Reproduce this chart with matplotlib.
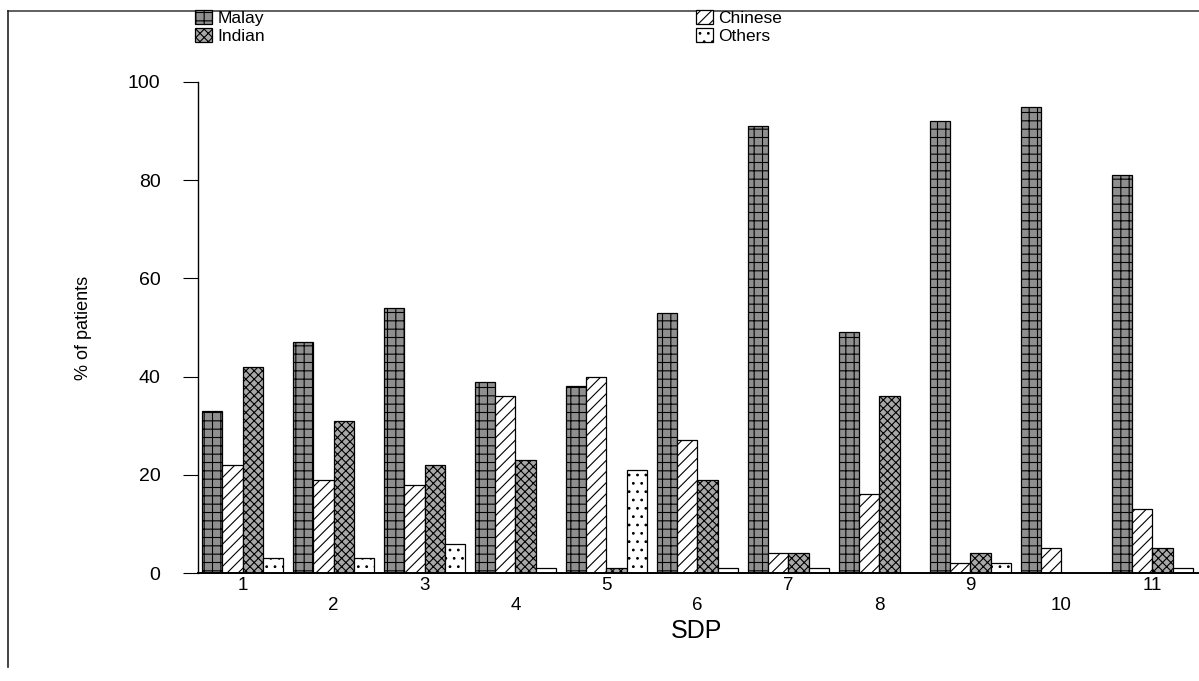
import matplotlib as mpl
mpl.use('Agg')
import matplotlib.pyplot as plt
from matplotlib.lines import Line2D
import numpy as np

plt.rcParams['font.family'] = ['Liberation Sans', 'DejaVu Sans']
plt.rcParams['hatch.linewidth'] = 0.8

sdp = ['1', '2', '3', '4', '5', '6', '7', '8', '9', '10', '11']
malay = [33, 47, 54, 39, 38, 53, 91, 49, 92, 95, 81]
chinese = [22, 19, 18, 36, 40, 27, 4, 16, 2, 5, 13]
indian = [42, 31, 22, 23, 1, 19, 4, 36, 4, 0, 5]
others = [3, 3, 6, 1, 21, 1, 1, 0, 2, 0, 1]

series = [('Malay', malay, '#8f8f8f', '++'),
          ('Chinese', chinese, 'white', '///'),
          ('Indian', indian, '#a8a8a8', 'xxxx'),
          ('Others', others, 'white', '..')]

fig = plt.figure(figsize=(11.99, 6.81), dpi=100)
ax = fig.add_axes([198/1199, 1-573/681, (1195-198)/1199, (573-82)/681])

x = np.arange(len(sdp))
w = 0.223
bars = {}
for k, (name, vals, fc, h) in enumerate(series):
    bars[name] = ax.bar(x + (k - 1.5)*w, vals, w, color=fc, edgecolor='black',
                        hatch=h, linewidth=0.9, label=name)

ax.set_xlim(-0.49, 10.47)
ax.set_ylim(0, 100)
ax.set_yticks([0, 20, 40, 60, 80, 100])
ax.tick_params(axis='y', length=11, width=0.8, pad=16, labelsize=14, direction='out')
ax.set_xticks(x)
ax.set_xticklabels([s if i % 2 == 0 else '\n' + s for i, s in enumerate(sdp)])
ax.tick_params(axis='x', length=0, pad=3, labelsize=13.5)
for sp in ['top', 'right']:
    ax.spines[sp].set_visible(False)
ax.spines['left'].set_linewidth(1.0)
ax.spines['bottom'].set_linewidth(1.4)
ax.spines['bottom'].set_bounds(-0.49, 10.5)
ax.set_ylabel('% of patients', fontsize=13, labelpad=26)
ax.set_xlabel('SDP', fontsize=18, labelpad=4)

# legend across the top
handles = [bars['Malay'], bars['Indian'], bars['Chinese'], bars['Others']]
labels = ['Malay', 'Indian', 'Chinese', 'Others']
fig.legend(handles, labels, ncol=2, loc='upper left',
           bbox_to_anchor=(195/1199, 1-10/681), frameon=False, fontsize=12.5,
           handlelength=1.0, handleheight=0.85, handletextpad=0.3,
           labelspacing=0.12, columnspacing=24.8, borderpad=0, borderaxespad=0)

# outer frame (top and left only)
fig.add_artist(Line2D([8/1199, 1], [1-11/681, 1-11/681], color='#444444', lw=1.2))
fig.add_artist(Line2D([8/1199, 8/1199], [0.02, 1-11/681], color='#222222', lw=1.2))

fig.savefig('out.png', dpi=100)
print("OK")
